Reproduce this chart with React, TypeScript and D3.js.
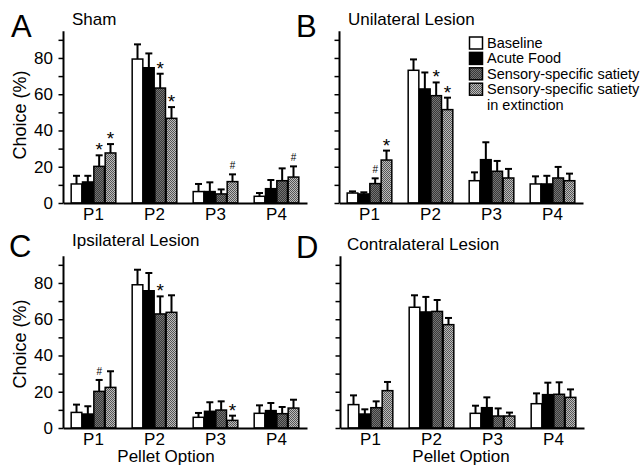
import React, { useRef, useEffect } from 'react';
import * as d3 from 'd3';

const pellets = ['P1', 'P2', 'P3', 'P4'];
const legendLabels = ['Baseline', 'Acute Food', 'Sensory-specific satiety', 'Sensory-specific satiety'];
const legendExtra = 'in extinction';
const yTicks = [0, 10, 20, 30, 40, 50, 60, 70, 80, 90];
const yLabelTicks = [0, 20, 40, 60, 80];

// means per series: baseline, acute food, SSS, SSS in extinction
const shamMean = [[10.5, 79.4, 6.3, 3.7], [11.6, 74.6, 6.3, 7.9], [20.2, 63.4, 5.0, 12.3], [27.6, 46.7, 11.8, 14.3]];
const shamSem = [[4.5, 8.1, 4.2, 1.8], [3.4, 7.9, 5.1, 4.8], [6.1, 7.9, 2.5, 6.8], [4.9, 6.2, 4.0, 5.9]];
const shamMarks = [['', '', '', ''], ['', '', '', ''], ['*', '*', '', ''], ['*', '*', '#', '#']];

const uniMean = [[5.5, 73.2, 12.3, 10.5], [5.0, 62.9, 23.9, 10.5], [10.7, 59.2, 17.5, 13.8], [23.7, 51.5, 13.8, 12.3]];
const uniSem = [[0.9, 6.0, 4.6, 4.2], [0.9, 9.1, 9.6, 4.5], [2.9, 7.3, 5.7, 6.1], [5.2, 6.6, 5.0, 3.9]];
const uniMarks = [['', '', '', ''], ['', '', '', ''], ['#', '*', '', ''], ['*', '*', '', '']];

const ipsiMean = [[8.6, 79.0, 5.9, 8.1], [7.7, 75.7, 9.2, 9.6], [20.2, 62.9, 9.9, 7.9], [22.4, 63.8, 4.2, 11.0]];
const ipsiSem = [[4.3, 8.3, 2.4, 4.4], [4.3, 9.8, 5.0, 4.2], [6.3, 9.7, 4.8, 3.7], [8.9, 9.4, 2.6, 4.6]];
const ipsiMarks = [['', '', '', ''], ['', '', '', ''], ['#', '*', '', ''], ['', '', '*', '']];

const contraMean = [[12.9, 66.6, 8.1, 13.4], [7.7, 64.0, 11.2, 18.4], [11.2, 64.3, 6.6, 18.6], [20.6, 57.0, 6.6, 16.9]];
const contraSem = [[5.1, 6.6, 4.2, 5.7], [2.6, 8.3, 5.7, 6.6], [3.5, 6.3, 4.2, 6.6], [4.8, 3.7, 1.9, 4.4]];
const contraMarks = [['', '', '', ''], ['', '', '', ''], ['', '', '', ''], ['', '', '', '']];

const FONT = '"Liberation Sans", Arial, sans-serif';
const fills = ['#fff', '#000', 'url(#patDark)', 'url(#patLight)'];

const panels = [
  { letter: 'A', lx: 11, ly: 37, title: 'Sham', tx: 72, ty: 25, mean: shamMean, sem: shamSem, marks: shamMarks, x0: 63, base: 203, labels: true, yTitle: 115, xTitle: null },
  { letter: 'B', lx: 296, ly: 37, title: 'Unilateral Lesion', tx: 348, ty: 25, mean: uniMean, sem: uniSem, marks: uniMarks, x0: 339, base: 203, labels: false, yTitle: null, xTitle: null },
  { letter: 'C', lx: 9, ly: 257, title: 'Ipsilateral Lesion', tx: 72, ty: 246, mean: ipsiMean, sem: ipsiSem, marks: ipsiMarks, x0: 63, base: 428, labels: true, yTitle: 344, xTitle: 166 },
  { letter: 'D', lx: 296, ly: 258, title: 'Contralateral Lesion', tx: 347, ty: 250, mean: contraMean, sem: contraSem, marks: contraMarks, x0: 340, base: 428, labels: false, yTitle: null, xTitle: 461 },
];

const App = () => {
  const svgRef = useRef<SVGSVGElement>(null);

  useEffect(() => {
    const svg = d3.select(svgRef.current);
    svg.selectAll('*').remove();

    const defs = svg.append('defs');
    const pd = defs.append('pattern').attr('id', 'patDark').attr('width', 2).attr('height', 2).attr('patternUnits', 'userSpaceOnUse');
    pd.append('rect').attr('width', 2).attr('height', 2).attr('fill', '#383838');
    pd.append('rect').attr('width', 1).attr('height', 1).attr('fill', '#747474');
    pd.append('rect').attr('x', 1).attr('y', 1).attr('width', 1).attr('height', 1).attr('fill', '#747474');
    const pl = defs.append('pattern').attr('id', 'patLight').attr('width', 2).attr('height', 2).attr('patternUnits', 'userSpaceOnUse');
    pl.append('rect').attr('width', 2).attr('height', 2).attr('fill', '#bcbcbc');
    pl.append('rect').attr('width', 1).attr('height', 1).attr('fill', '#555');
    pl.append('rect').attr('x', 1).attr('y', 1).attr('width', 1).attr('height', 1).attr('fill', '#555');

    panels.forEach(p => {
      const g = svg.append('g');
      const x = d3.scaleBand().domain(pellets).range([p.x0, p.x0 + 244]).paddingInner(0.246).paddingOuter(0.123);
      const xs = d3.scaleBand<number>().domain([0, 1, 2, 3]).range([0, x.bandwidth()]).padding(0.06);
      const y = d3.scaleLinear().domain([0, 95]).range([p.base, p.base - 95 * 1.813]);

      // bars + error bars
      p.mean.forEach((vals, s) => {
        vals.forEach((v, i) => {
          const cx = x(pellets[i])! + xs(s)! + xs.bandwidth() / 2;
          const top = y(v + p.sem[s][i]);
          g.append('line').attr('x1', cx).attr('x2', cx).attr('y1', y(v)).attr('y2', top)
            .attr('stroke', '#000').attr('stroke-width', 2);
          g.append('line').attr('x1', cx - 3.5).attr('x2', cx + 3.5).attr('y1', top).attr('y2', top)
            .attr('stroke', '#000').attr('stroke-width', 2);
          g.append('rect')
            .attr('x', x(pellets[i])! + xs(s)!)
            .attr('y', y(v))
            .attr('width', xs.bandwidth())
            .attr('height', p.base - y(v))
            .attr('fill', fills[s])
            .attr('stroke', '#000')
            .attr('stroke-width', 1.5);
          const m = p.marks[s][i];
          if (m) {
            g.append('text').attr('x', cx).attr('y', m === '*' ? top + 1 : top - 5)
              .attr('text-anchor', 'middle').attr('font-family', FONT)
              .attr('font-size', m === '*' ? 19 : 10).text(m);
          }
        });
      });

      // y axis
      const ya = g.append('g').attr('transform', `translate(${p.x0},0)`)
        .call(d3.axisLeft(y).tickValues(yTicks).tickSize(4.5).tickSizeOuter(0).tickPadding(5.5)
          .tickFormat(d => (p.labels && yLabelTicks.includes(d as number) ? String(d) : '')));
      ya.attr('font-family', FONT).attr('font-size', 17);
      ya.select('.domain').attr('stroke-width', 2);
      ya.selectAll('.tick line').attr('stroke-width', 1.5);

      // x axis
      const xa = g.append('g').attr('transform', `translate(0,${p.base})`)
        .call(d3.axisBottom(x).tickSize(0).tickSizeOuter(0).tickPadding(4.5));
      xa.attr('font-family', FONT).attr('font-size', 17);
      xa.select('.domain').attr('stroke-width', 2);

      g.append('text').attr('x', p.lx).attr('y', p.ly).attr('font-family', FONT).attr('font-size', 31).text(p.letter);
      g.append('text').attr('x', p.tx).attr('y', p.ty).attr('font-family', FONT).attr('font-size', 17).text(p.title);

      if (p.yTitle !== null) {
        g.append('text').attr('transform', `translate(26,${p.yTitle}) rotate(-90)`)
          .attr('text-anchor', 'middle').attr('font-family', FONT).attr('font-size', 18).text('Choice (%)');
      }
      if (p.xTitle !== null) {
        g.append('text').attr('x', p.xTitle).attr('y', 462)
          .attr('text-anchor', 'middle').attr('font-family', FONT).attr('font-size', 17).text('Pellet Option');
      }
    });

    // legend
    const lg = svg.append('g');
    legendLabels.forEach((label, i) => {
      lg.append('rect').attr('x', 469.5).attr('y', 37 + i * 15.4).attr('width', 13).attr('height', 12)
        .attr('fill', fills[i]).attr('stroke', '#000').attr('stroke-width', 1.5);
      lg.append('text').attr('x', 487).attr('y', 48 + i * 15.4)
        .attr('font-family', FONT).attr('font-size', 14.5).text(label);
    });
    lg.append('text').attr('x', 487).attr('y', 48 + 4 * 15.4)
      .attr('font-family', FONT).attr('font-size', 14.5).text(legendExtra);
  }, []);

  return (
    <svg ref={svgRef} width="644" height="467" style={{ position: 'absolute', left: 0, top: 0, background: '#fff' }}></svg>
  );
};

export default App;
